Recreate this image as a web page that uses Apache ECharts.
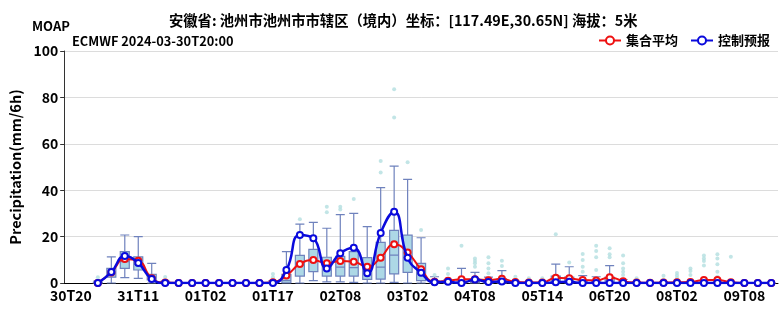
<!DOCTYPE html>
<html><head><meta charset="utf-8">
<script src="https://cdn.jsdelivr.net/npm/echarts@6/dist/echarts.min.js"></script>
<style>html,body{margin:0;padding:0;background:#fff}#c{width:780px;height:312px}</style>
</head><body><div id="c"></div>
<script>
var categories = ['30T20','30T23','31T02','31T05','31T08','31T11','31T14','31T17','31T20','31T23',
'01T02','01T05','01T08','01T11','01T14','01T17','01T20','01T23','02T02','02T05',
'02T08','02T11','02T14','02T17','02T20','03T02','03T08','03T14','03T20','04T02',
'04T08','04T14','04T20','05T02','05T08','05T14','05T20','06T02','06T08','06T14',
'06T20','07T02','07T08','07T14','07T20','08T02','08T08','08T14','08T20','09T02',
'09T08','09T14','09T20'];
var yTicks = [0,20,40,60,80,100];
var boxes = [
null,null,[0,0,0,0.3,0.8],[0,2.5,4,6.3,11.3],[2.3,6.3,9.2,13.5,20.7],[2,5.6,8,11.3,20],[0,1.3,2.5,3.7,8.5],[0,0,0,0.3,0.8],[0,0,0,0,0],[0,0,0,0,0],
[0,0,0,0,0],[0,0,0,0,0],[0,0,0,0,0],[0,0,0,0,0],[0,0,0,0,0.3],[0,0,0,0.3,1],[0,0.1,1,3.7,13.5],[0,3,7.8,11.9,25.4],[1,4.9,9.6,14.5,26.1],[0.5,3,6.8,11.1,23.6],
[0.5,3,6.8,11.5,29.5],[0.3,3,6.6,13.5,30],[0,1.6,5,10.9,24.3],[0,1.7,6.8,17.5,41.1],[0.3,3.9,12,22.7,50.4],[0,4.6,11,20.6,44.7],[0,1,4,8.5,19.5],[0,0,0.3,1,2.7],[0,0,0,0.5,1.5],[0,0,0.3,1.5,6.3],
[0,0,0.5,1.8,4.6],[0,0,0,1,2.5],[0,0,0.3,1.8,5.3],[0,0,0,0.3,0.8],[0,0,0,0,0.5],[0,0,0,0,0.5],[0,0.3,1,3,8.1],[0,0.2,1,2.5,7.0],[0,0,0.3,1,3.2],[0,0,0.2,0.8,2.7],
[0,0.2,0.8,2.5,7.5],[0,0,0,0.5,1.5],[0,0,0,0,0.5],[0,0,0,0,0],[0,0,0,0,0.5],[0,0,0,0,0.3],[0,0,0,0,0.5],[0,0,0,0.2,0.8],[0,0,0,0.2,0.8],[0,0,0,0,0.3],
[0,0,0,0,0],[0,0,0,0,0],[0,0,0,0,0]];
var outliers = [
[],[],[2.5],[],[],[],[],[2.6],[],[],
[],[],[],[],[],[3.9,2.5],[],[27.5],[],[32.9,30.5],
[32.9,31.7],[36.2],[],[52.6,47.6],[83.5,71.3],[52],[22.8],[3.5],[6.3,3.9],[16.1],
[10.6,9.5,8.5,7.0],[11.1,8.5,6.3,4.2],[9.6,7.3],[2.7],[2.0],[2.0],[21.0],[8.8],[12.5,9.9,7.0,4.9],[16.1,13.8,11.1,5.6],
[15,12.4,11.1],[11.8,8.5,6.3,4.9,3.4],[2.0],[],[3.1,1.5],[4.3,3.2,2.2],[6.3,5.2,3.5],[11.8,10.6,9.5,7.5],[12.4,10.6,8.1,4.9,2.7],[11.3],
[],[],[]];
var ensMean = [null,null,0,4.5,10.3,9.6,2.0,0.2,0,0,
0,0,0,0,0,0.3,3.2,8.2,9.9,8.5,
9.5,9.2,7.0,10.9,16.7,13.2,5.9,0.5,1.0,1.6,
1.6,1.2,1.8,0.4,0.2,0.2,2.3,2.0,1.3,1.1,
2.5,0.8,0.2,0.1,0.2,0.3,0.4,1.3,1.3,0.3,
0,0,0];
var ctrl = [null,null,0,4.7,11.6,8.6,1.7,0,0,0,
0,0,0,0,0,0,5.6,20.7,19.3,6.3,
12.8,15.2,4.2,21.6,30.7,10.9,4.4,0.3,0.5,0,
1.5,0.4,0.6,0,0,0,0.3,0.5,0,0,
0,0,0,0,0,0,0,0,0,0,
0,0,0];

var boxData = boxes.map(function(b){return b ? b : ['-','-','-','-','-'];});
var scatterData = [];
outliers.forEach(function(arr,i){arr.forEach(function(v){scatterData.push([i,v]);});});
var meanData = ensMean.map(function(v){return v===null?'-':v;});
var ctrlData = ctrl.map(function(v){return v===null?'-':v;});

var F = "'Noto Sans CJK SC','Noto Sans',sans-serif";
var chart = echarts.init(document.getElementById('c'));
chart.setOption({
  animation:false,
  textStyle:{fontFamily:F},
  title:[
    {text:'安徽省: 池州市池州市市辖区（境内）坐标：[117.49E,30.65N] 海拔：5米',left:164,top:8,
     textStyle:{fontFamily:F,fontSize:14.3,fontWeight:'bold',color:'#000'}},
    {text:'MOAP',left:27,top:15,textStyle:{fontFamily:F,fontSize:13,fontWeight:'bold',color:'#000'}},
    {text:'ECMWF 2024-03-30T20:00',left:67,top:30,textStyle:{fontFamily:F,fontSize:12.8,fontWeight:'bold',color:'#000'}}
  ],
  legend:{right:5,top:29,itemWidth:22,itemHeight:10,itemGap:12,
    textStyle:{fontFamily:F,fontSize:13,fontWeight:'bold',color:'#000'},
    data:['集合平均','控制预报']},
  grid:{left:62,right:2,top:51,bottom:29},
  xAxis:{type:'category',data:categories,boundaryGap:true,
    axisLine:{lineStyle:{color:'#000',width:1}},
    axisTick:{alignWithLabel:true,interval:4,length:5,lineStyle:{color:'#000'}},
    axisLabel:{interval:4,fontFamily:F,fontSize:14,fontWeight:'bold',color:'#000',margin:6},
    splitLine:{show:false}},
  yAxis:{type:'value',min:0,max:100,interval:20,
    name:'Precipitation(mm/6h)',nameLocation:'middle',nameGap:38,
    nameTextStyle:{fontFamily:F,fontSize:14.5,fontWeight:'bold',color:'#000'},
    axisLine:{show:true,lineStyle:{color:'#333'}},
    axisTick:{show:true,length:4,lineStyle:{color:'#333'}},
    axisLabel:{fontFamily:F,fontSize:14,fontWeight:'bold',color:'#000',margin:6,
      formatter:function(v){return yTicks.indexOf(v)>=0?String(v):'';}},
    splitLine:{lineStyle:{color:'#dcdcdc'}}},
  series:[
    {name:'box',type:'boxplot',data:boxData,boxWidth:[9,9],
     itemStyle:{color:'#add8e6',borderColor:'#6f82bd',borderWidth:1.2},z:2},
    {name:'outlier',type:'scatter',data:scatterData,symbolSize:4,
     itemStyle:{color:'#b3dfe0'},z:2},
    {name:'集合平均',type:'line',data:meanData,smooth:true,symbol:'circle',symbolSize:6,
     lineStyle:{color:'#ee1111',width:2},
     itemStyle:{color:'#fff',borderColor:'#ee1111',borderWidth:2},z:3},
    {name:'控制预报',type:'line',data:ctrlData,smooth:true,symbol:'circle',symbolSize:6,
     lineStyle:{color:'#0a0adc',width:2.5},
     itemStyle:{color:'#fff',borderColor:'#0a0adc',borderWidth:2},z:4}
  ]
});
</script></body></html>
